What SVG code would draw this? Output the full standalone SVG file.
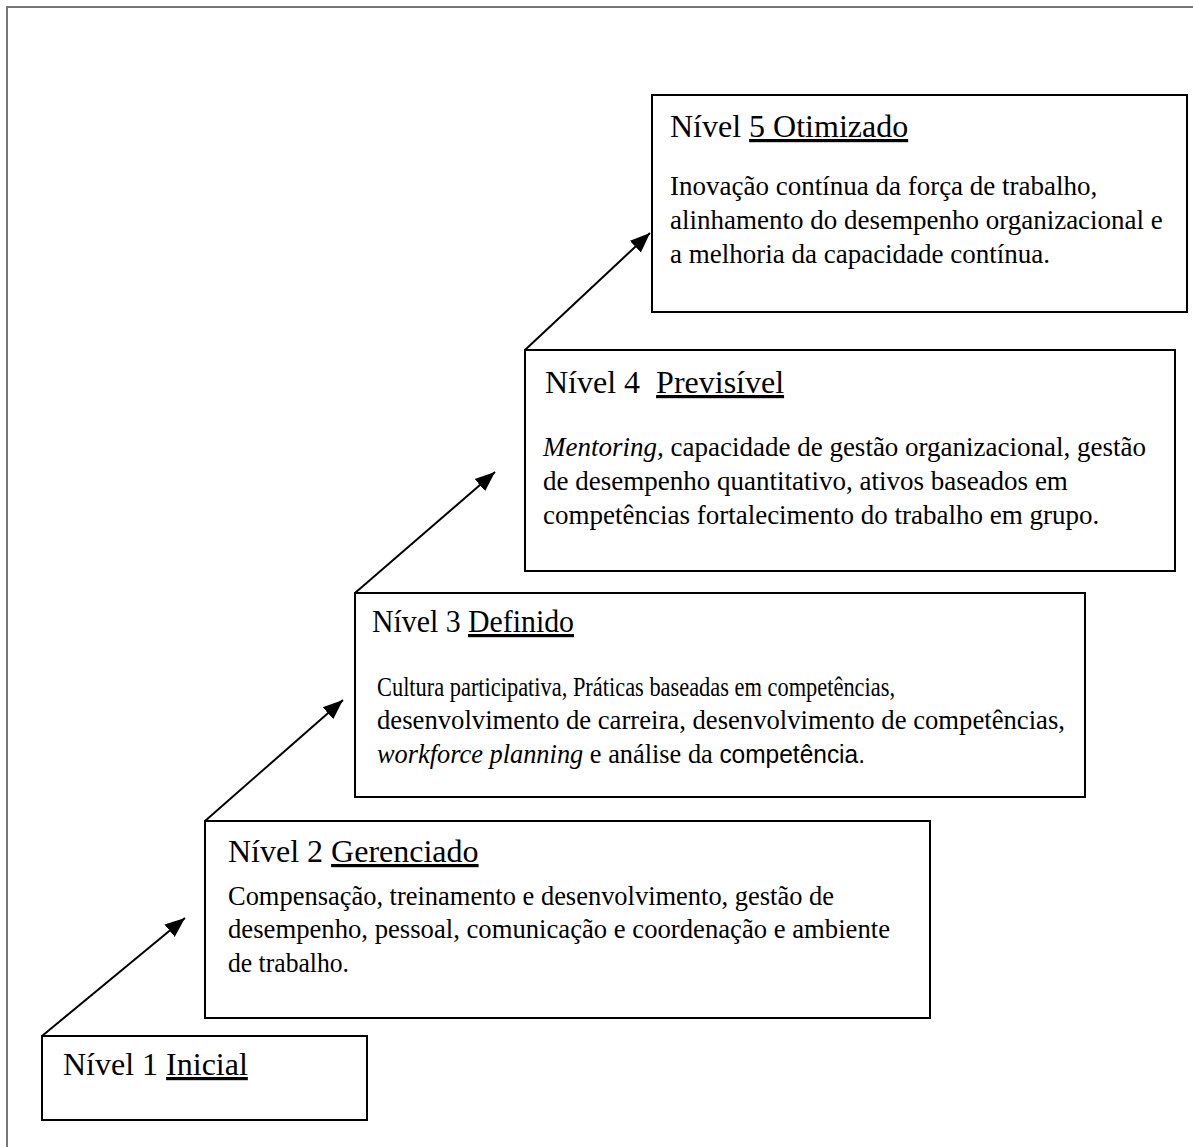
<svg xmlns="http://www.w3.org/2000/svg" width="1193" height="1147" viewBox="0 0 1193 1147">
  <style>
    .box { fill: #fff; stroke: #000; stroke-width: 2; }
    .title { font-family: "Liberation Serif", "Times New Roman", serif; font-size: 32px; fill: #000; }
    .body { font-family: "Liberation Serif", "Times New Roman", serif; font-size: 27px; fill: #000; }
    .tall { font-size: 28px; }
    .u { text-decoration: underline; }
    .it { font-style: italic; }
    .sans { font-family: "Liberation Sans", Arial, sans-serif; font-size: 26px; }
    .conn { stroke: #000; stroke-width: 2; fill: none; marker-end: url(#arrow); }
  </style>
  <defs>
    <marker id="arrow" markerUnits="userSpaceOnUse" markerWidth="22" markerHeight="18" refX="20" refY="9" orient="auto">
      <path d="M0,1 L20,9 L0,17 Z" fill="#000"/>
    </marker>
  </defs>

  <rect width="1193" height="1147" fill="#fff"/>
  <!-- page frame -->
  <path d="M7,1147 V7 H1193" fill="none" stroke="#777" stroke-width="2"/>

  <g id="connectors">
    <line class="conn" x1="42" y1="1036" x2="185" y2="918"/>
    <line class="conn" x1="205" y1="821" x2="343" y2="700"/>
    <line class="conn" x1="355" y1="593" x2="495" y2="472"/>
    <line class="conn" x1="525" y1="350" x2="650" y2="233"/>
  </g>

  <g id="nivel1">
    <rect class="box" x="42" y="1036" width="325" height="84"/>
    <text class="title" x="63" y="1075">Nível 1 <tspan class="u">Inicial</tspan></text>
  </g>

  <g id="nivel2">
    <rect class="box" x="205" y="821" width="725" height="197"/>
    <text class="title" x="228" y="862">Nível 2 <tspan class="u">Gerenciado</tspan></text>
    <text class="body" x="228" y="905" textLength="606" lengthAdjust="spacingAndGlyphs">Compensação, treinamento e desenvolvimento, gestão de</text>
    <text class="body" x="228" y="938" textLength="662" lengthAdjust="spacingAndGlyphs">desempenho, pessoal, comunicação e coordenação e ambiente</text>
    <text class="body" x="228" y="972" textLength="121" lengthAdjust="spacingAndGlyphs">de trabalho.</text>
  </g>

  <g id="nivel3">
    <rect class="box" x="355" y="593" width="730" height="204"/>
    <text class="title" x="372" y="632" textLength="202" lengthAdjust="spacingAndGlyphs">Nível 3 <tspan class="u">Definido</tspan></text>
    <text class="body tall" x="377" y="696" textLength="518" lengthAdjust="spacingAndGlyphs">Cultura participativa, Práticas baseadas em competências,</text>
    <text class="body tall" x="377" y="729" textLength="688" lengthAdjust="spacingAndGlyphs">desenvolvimento de carreira, desenvolvimento de competências,</text>
    <text class="body tall" x="377" y="763" textLength="488" lengthAdjust="spacingAndGlyphs"><tspan class="it">workforce planning</tspan> e análise da <tspan class="sans">competência.</tspan></text>
  </g>

  <g id="nivel4">
    <rect class="box" x="525" y="350" width="650" height="221"/>
    <text class="title" x="545" y="393" xml:space="preserve">Nível 4  <tspan class="u">Previsível</tspan></text>
    <text class="body" x="543" y="456"><tspan class="it">Mentoring,</tspan> capacidade de gestão organizacional, gestão</text>
    <text class="body" x="543" y="490">de desempenho quantitativo, ativos baseados em</text>
    <text class="body" x="543" y="524">competências fortalecimento do trabalho em grupo.</text>
  </g>

  <g id="nivel5">
    <rect class="box" x="652" y="95" width="535" height="217"/>
    <text class="title" x="670" y="137">Nível <tspan class="u">5 Otimizado</tspan></text>
    <text class="body" x="670" y="195">Inovação contínua da força de trabalho,</text>
    <text class="body" x="670" y="229">alinhamento do desempenho organizacional e</text>
    <text class="body" x="670" y="263">a melhoria da capacidade contínua.</text>
  </g>
</svg>
